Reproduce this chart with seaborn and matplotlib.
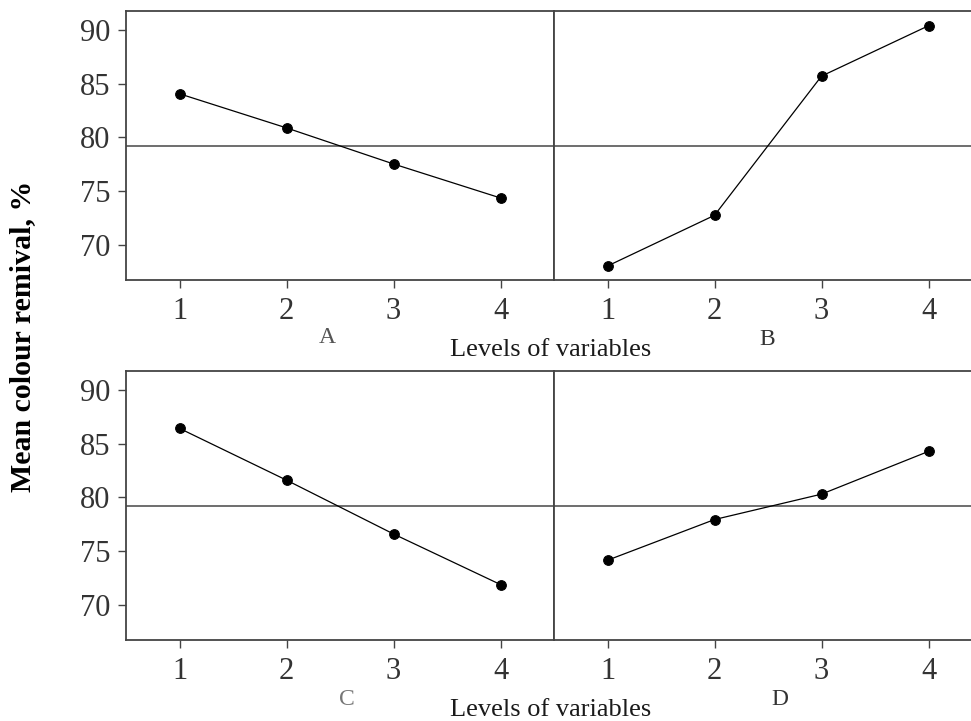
import numpy as np
import pandas as pd
import matplotlib
matplotlib.use("Agg")
import matplotlib.pyplot as plt
import seaborn as sns

sns.set_style("white")
plt.rcParams['font.family'] = ['Liberation Serif', 'DejaVu Serif']

# Main effects data
levels = [1, 2, 3, 4]
factor_A = [84.05, 80.88, 77.53, 74.37]
factor_B = [68.05, 72.76, 85.69, 90.37]
factor_C = [86.41, 81.60, 76.60, 71.90]
factor_D = [74.16, 77.94, 80.30, 84.27]
yticks = [70, 75, 80, 85, 90]

df = pd.DataFrame({
    'level': levels * 4,
    'mean': factor_A + factor_B + factor_C + factor_D,
    'factor': ['A'] * 4 + ['B'] * 4 + ['C'] * 4 + ['D'] * 4,
})
grand_mean = df['mean'].mean()

W, H = 971, 721
fig = plt.figure(figsize=(W / 100, H / 100), dpi=100)

spine_col = '#444444'
tick_col = '#333333'

def px_axes(left, top, width, height):
    return fig.add_axes([left / W, 1 - (top + height) / H, width / W, height / H])

panels = {
    'A': px_axes(126, 11, 428, 269),
    'B': px_axes(554, 11, 428, 269),
    'C': px_axes(126, 371, 428, 269),
    'D': px_axes(554, 371, 428, 269),
}

for name, ax in panels.items():
    sub = df[df['factor'] == name]
    sns.lineplot(data=sub, x='level', y='mean', ax=ax, color='black',
                 linewidth=0.9, marker='o', markersize=7,
                 markeredgecolor='black', markerfacecolor='black')
    ax.axhline(grand_mean, color='#555555', linewidth=1.2, zorder=0)
    ax.set_xlim(0.5, 4.5)
    ax.set_ylim(66.75, 91.74)
    ax.set_xticks(levels)
    ax.set_xticklabels([str(v) for v in levels])
    ax.set_xlabel('')
    ax.set_ylabel('')
    for s in ax.spines.values():
        s.set_color(spine_col)
        s.set_linewidth(1.3)
    ax.tick_params(axis='x', direction='out', length=6, width=1, color=spine_col,
                   labelsize=22, labelcolor=tick_col, pad=6, bottom=True)
    if name in ('A', 'C'):
        ax.set_yticks(yticks)
        ax.tick_params(axis='y', direction='out', length=6, width=1, color=spine_col,
                       labelsize=22, labelcolor=tick_col, pad=5, left=True)
    else:
        ax.set_yticks([])
        ax.spines['right'].set_visible(False)

# factor labels
def fig_text(x, y, s, **kw):
    fig.text(x / W, 1 - y / H, s, **kw)

fig_text(327, 343, 'A', ha='center', va='baseline', fontsize=17, color='#555555')
fig_text(767, 345, 'B', ha='center', va='baseline', fontsize=17, color='#333333')
fig_text(347, 705, 'C', ha='center', va='baseline', fontsize=17, color='#777777')
fig_text(780, 705, 'D', ha='center', va='baseline', fontsize=17, color='#333333')

fig_text(551, 356, 'Levels of variables', ha='center', va='baseline', fontsize=19,
         color='#1a1a1a')
fig_text(551, 716, 'Levels of variables', ha='center', va='baseline', fontsize=19,
         color='#1a1a1a')

fig_text(23, 336, 'Mean colour remival, %', ha='center', va='center', rotation=90,
         fontsize=21.5, fontweight='bold', color='black')

fig.savefig('out.png', dpi=100)
